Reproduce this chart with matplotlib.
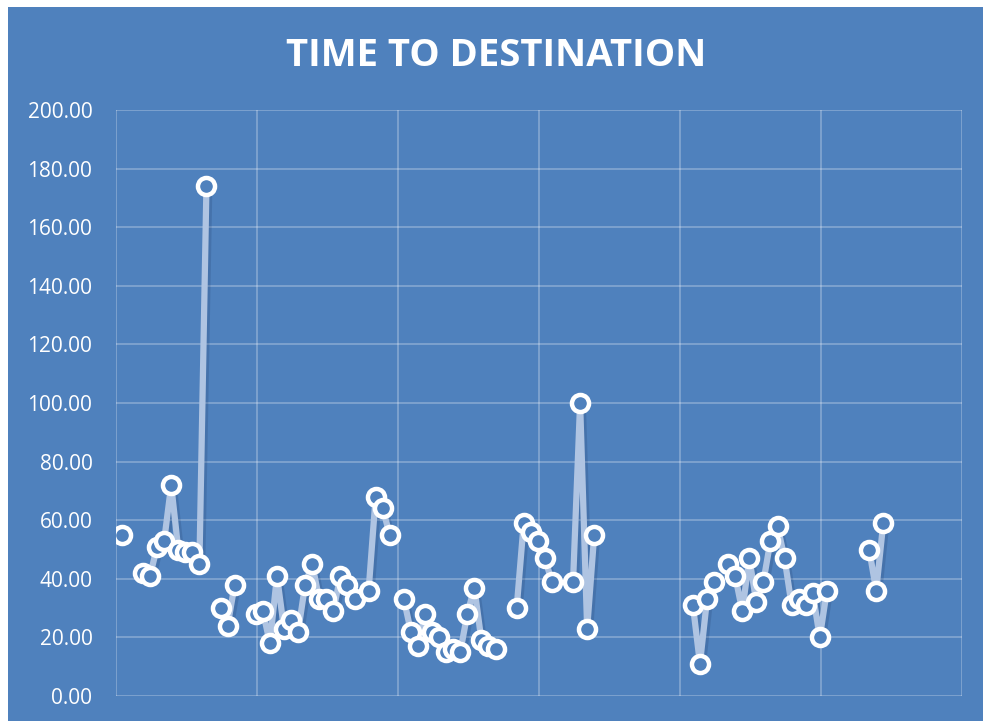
import numpy as np
import matplotlib.pyplot as plt
import matplotlib.patheffects as pe
from matplotlib.patches import Rectangle
from matplotlib.ticker import FormatStrFormatter

nan = np.nan

# minutes to destination per trip, nan where no trip was logged
trip_index = np.arange(109)
minutes = [
    55, nan, nan, 42, 41, 51, 53, 72, 50, 49,
    49, 45, 174, nan, 30, 24, 38, nan, nan, 28,
    29, 18, 41, 23, 26, 22, 38, 45, 33, 33,
    29, 41, 38, 33, nan, 36, 68, 64, 55, nan,
    33, 22, 17, 28, 22, 20, 15, 16, 15, 28,
    37, 19, 17, 16, nan, nan, 30, 59, 56, 53,
    47, 39, nan, nan, 39, 100, 23, 55, nan, nan,
    nan, nan, nan, nan, nan, nan, nan, nan, nan, nan,
    nan, 31, 11, 33, 39, nan, 45, 41, 29, 47,
    32, 39, 53, 58, 47, 31, 33, 31, 35, 20,
    36, nan, nan, nan, nan, nan, 50, 36, 59,
]
y_ticks = np.arange(0, 201, 20)

bg = '#4F81BD'
plt.rcParams['font.family'] = ['Open Sans', 'DejaVu Sans']

fig = plt.figure(figsize=(9.83, 7.21), dpi=100, facecolor='white')
fig.patches.append(Rectangle((8 / 983, 0), 1, 714 / 721, transform=fig.transFigure,
                             facecolor=bg, edgecolor='none', zorder=-10))

ax = fig.add_axes([116 / 983, 25 / 721, 846 / 983, 586 / 721])
ax.set_facecolor(bg)
ax.patch.set_alpha(0)

ax.plot(trip_index, minutes, color='#AFC4E2', linewidth=4.5, solid_capstyle='round',
        zorder=3,
        path_effects=[pe.SimpleLineShadow(offset=(2, -2), shadow_color='#1F3A66', alpha=0.2),
                      pe.Normal()])
ax.plot(trip_index, minutes, linestyle='none', marker='o', markersize=12.3,
        markerfacecolor=bg, markeredgecolor='white', markeredgewidth=3.2, zorder=4)

ax.set_xlim(-0.83, 119.17)
ax.set_ylim(0, 200)
ax.set_xticks(np.arange(-0.83, 120, 20))
ax.set_yticks(y_ticks)
ax.yaxis.set_major_formatter(FormatStrFormatter('%.2f'))
ax.grid(True, color='white', alpha=0.28, linewidth=1.3)
ax.set_axisbelow(True)
for s in ax.spines.values():
    s.set_visible(False)
ax.tick_params(axis='x', length=0, labelbottom=False)
ax.tick_params(axis='y', length=0, pad=17, labelcolor='white', labelsize=15)

fig.text(0.505, 0.922, 'TIME TO DESTINATION', ha='center', va='center',
         color='white', fontsize=27.5, fontweight='bold')

fig.savefig('out.png', dpi=100, facecolor='white')
